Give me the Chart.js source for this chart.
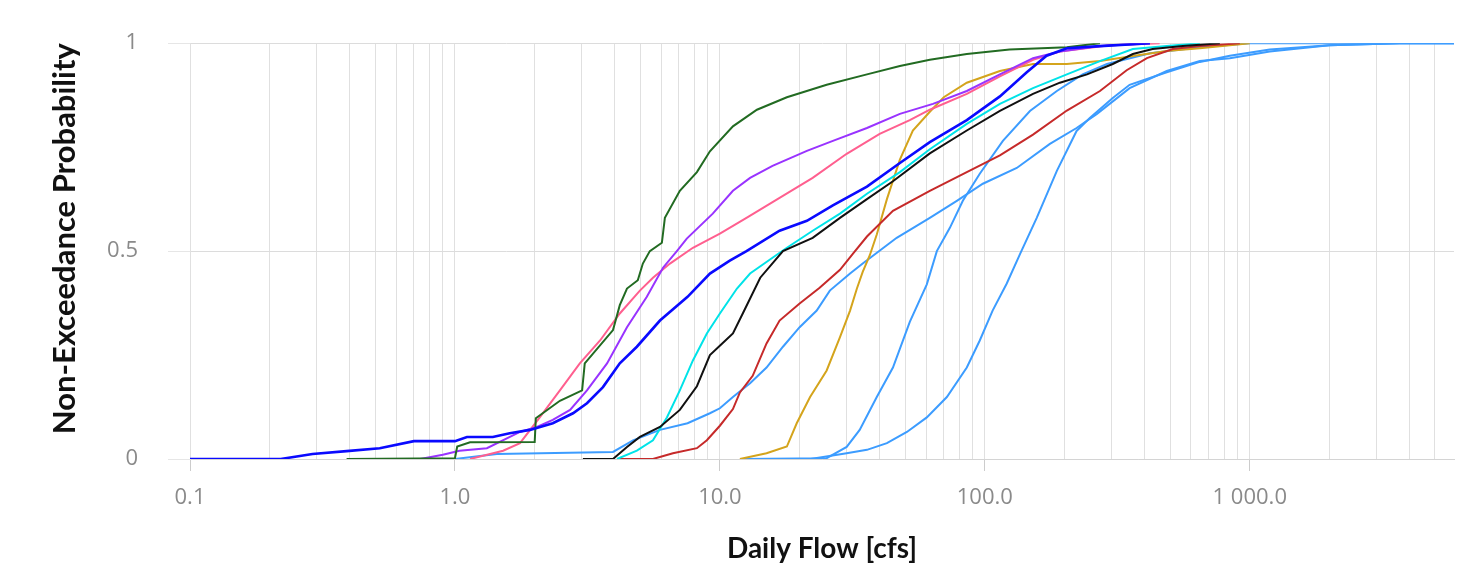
<!DOCTYPE html>
<html>
<head>
<meta charset="utf-8">
<script src="https://cdn.jsdelivr.net/npm/chart.js@4/dist/chart.umd.min.js"></script>
<style>
  html, body { margin: 0; padding: 0; background: #fff; }
  #wrap { width: 1476px; height: 569px; }
</style>
</head>
<body>
<div id="wrap"><canvas id="chart"></canvas></div>
<script>
// flow [cfs], non-exceedance probability pairs
const blue = [[0.1,0],[0.22,0],[0.29,0.012],[0.39,0.019],[0.52,0.026],[0.70,0.043],[1.0,0.043],[1.11,0.053],[1.39,0.053],[1.61,0.062],[1.92,0.07],[2.34,0.086],[2.79,0.11],[3.15,0.134],[3.62,0.173],[4.19,0.23],[4.86,0.27],[5.94,0.333],[7.55,0.39],[9.17,0.446],[10.9,0.477],[12.6,0.5],[16.8,0.549],[21.3,0.573],[26.7,0.61],[35.9,0.655],[47.8,0.712],[62,0.762],[85.5,0.815],[114,0.872],[144,0.93],[171,0.97],[204,0.988],[272,0.993],[420,1]];
const green = [[0.39,0],[1.0,0.002],[1.02,0.03],[1.14,0.04],[2.0,0.041],[2.02,0.098],[2.49,0.14],[3.02,0.165],[3.09,0.23],[3.95,0.31],[4.19,0.37],[4.46,0.41],[4.9,0.43],[5.12,0.47],[5.44,0.5],[6.04,0.52],[6.2,0.58],[7.06,0.645],[8.19,0.69],[9.17,0.74],[11.2,0.8],[13.8,0.84],[17.9,0.87],[25.3,0.9],[35.9,0.925],[47.8,0.945],[62,0.96],[85.5,0.974],[124,0.985],[204,0.99],[272,1]];
const purple = [[0.74,0],[0.9,0.01],[1.04,0.02],[1.32,0.026],[1.76,0.065],[2.04,0.077],[2.34,0.094],[2.72,0.118],[3.15,0.165],[3.75,0.23],[4.46,0.317],[5.3,0.39],[6.1,0.46],[6.88,0.5],[7.5,0.53],[9.4,0.59],[11.2,0.645],[13.0,0.676],[15.8,0.705],[21.3,0.741],[26.7,0.765],[35.9,0.796],[47.8,0.83],[63.7,0.854],[85.5,0.885],[114,0.925],[152,0.964],[192,0.98],[272,0.993],[420,1]];
const pink = [[1.14,0],[1.52,0.02],[1.76,0.038],[2.09,0.1],[2.49,0.165],[2.96,0.23],[3.53,0.285],[4.19,0.35],[4.99,0.405],[5.59,0.436],[6.48,0.47],[7.91,0.508],[10.0,0.542],[12.6,0.58],[16.8,0.628],[22.4,0.676],[30.1,0.734],[40.1,0.782],[52.1,0.815],[62,0.84],[85.5,0.878],[114,0.92],[152,0.96],[192,0.98],[296,0.995],[457,1]];
const black = [[3.04,0],[3.95,0],[4.46,0.029],[4.99,0.053],[5.94,0.077],[7.06,0.118],[8.19,0.175],[9.17,0.25],[10.3,0.28],[11.2,0.302],[12.2,0.35],[14.2,0.436],[17.3,0.5],[22.4,0.532],[28.4,0.58],[35.9,0.625],[45,0.668],[62,0.735],[85.5,0.79],[114,0.837],[152,0.878],[192,0.905],[243,0.925],[304,0.95],[362,0.974],[430,0.986],[559,0.993],[771,1]];
const cyan = [[4.09,0],[4.86,0.02],[5.59,0.045],[6.31,0.1],[7.06,0.165],[7.91,0.237],[8.93,0.302],[10.0,0.35],[11.6,0.41],[13.0,0.446],[15.8,0.484],[17.9,0.508],[22.4,0.549],[28.4,0.59],[35.9,0.638],[47.8,0.69],[62,0.745],[85.5,0.806],[114,0.854],[152,0.892],[204,0.925],[272,0.957],[362,0.986],[486,0.993],[648,1]];
const red = [[4.19,0],[5.59,0],[6.65,0.014],[8.19,0.026],[8.93,0.045],[10.0,0.08],[11.2,0.12],[11.9,0.16],[13.3,0.2],[15.0,0.278],[16.8,0.333],[20.0,0.374],[23.8,0.412],[28.4,0.455],[31.8,0.494],[35.9,0.535],[45,0.597],[62,0.645],[85.5,0.69],[114,0.73],[152,0.78],[204,0.838],[272,0.885],[343,0.935],[409,0.964],[512,0.986],[648,0.993],[917,1]];
const gold = [[11.9,0],[15.0,0.014],[17.9,0.03],[19.5,0.086],[21.9,0.149],[25.3,0.213],[28.4,0.293],[31.0,0.357],[32.9,0.41],[34.6,0.45],[36.8,0.49],[39.1,0.54],[42.7,0.625],[47.8,0.72],[53.5,0.79],[62,0.835],[70,0.87],[85.5,0.905],[114,0.933],[152,0.95],[204,0.95],[272,0.957],[362,0.969],[486,0.981],[648,0.988],[1000,1]];
const lightBlue1 = [[1.0,0],[1.44,0.012],[3.95,0.017],[4.7,0.045],[5.94,0.07],[7.55,0.086],[9.17,0.11],[10.0,0.122],[11.2,0.149],[13.0,0.182],[15.0,0.22],[17.3,0.27],[20.0,0.317],[23.2,0.357],[26.0,0.405],[31.0,0.446],[34.6,0.47],[46.5,0.532],[62,0.58],[78.4,0.621],[98.3,0.662],[132,0.70],[176,0.758],[222,0.796],[265,0.83],[352,0.892],[486,0.933],[648,0.957],[841,0.964],[1190,0.98],[2000,0.995],[3680,1],[5900,1]];
const lightBlue2 = [[12,0],[25.3,0.002],[30.1,0.029],[33.7,0.07],[39.1,0.149],[45,0.22],[52.1,0.33],[60.4,0.42],[65.9,0.5],[73.8,0.556],[82.6,0.621],[95.7,0.686],[117,0.765],[148,0.837],[187,0.885],[234,0.925],[289,0.95],[420,0.976],[648,0.99],[1000,1],[5900,1]];
const lightBlue3 = [[22,0],[30.1,0.014],[35.9,0.022],[42.7,0.038],[50.8,0.065],[60.4,0.1],[71.9,0.149],[85.5,0.22],[95.7,0.285],[107,0.357],[121,0.422],[136,0.494],[157,0.58],[187,0.693],[222,0.789],[249,0.82],[304,0.868],[352,0.9],[486,0.93],[648,0.955],[841,0.97],[1190,0.985],[2000,0.995],[3680,1],[5900,1]];

const xTickValues = [0.1, 1, 10, 100, 1000];
const xTickLabels = ['0.1', '1.0', '10.0', '100.0', '1 000.0'];
const yTickValues = [0, 0.5, 1];
const yTickLabels = ['0', '0.5', '1'];
const xMin = 0.1, xMax = 5900;

function pts(arr) { return arr.map(p => ({x: p[0], y: p[1]})); }
function isDecade(v) { return xTickValues.some(t => Math.abs(v - t) / t < 1e-6); }

const series = [
    {data: blue, color: '#0a0aff', width: 2.6},
    {data: black, color: '#111111', width: 2},
    {data: green, color: '#226b22', width: 2},
    {data: purple, color: '#9933ff', width: 2},
    {data: pink, color: '#ff5f8f', width: 2},
    {data: cyan, color: '#00e3e8', width: 2},
    {data: red, color: '#c62a2a', width: 2},
    {data: gold, color: '#d4a41c', width: 2},
    {data: lightBlue1, color: '#3c9cff', width: 2},
    {data: lightBlue2, color: '#3c9cff', width: 2},
    {data: lightBlue3, color: '#3c9cff', width: 2}
];

const ctx = document.getElementById('chart');

new Chart(ctx, {
    type: 'line',
    data: {
        datasets: series.map((s, i) => ({
            label: 'Series ' + (i + 1),
            data: pts(s.data),
            borderColor: s.color,
            borderWidth: s.width,
            pointRadius: 0,
            fill: false,
            tension: 0
        }))
    },
    options: {
        responsive: true,
        maintainAspectRatio: false,
        animation: false,
        layout: { padding: { top: 42, right: 22, bottom: 0, left: 30 } },
        plugins: { legend: { display: false }, tooltip: { enabled: false } },
        scales: {
            x: {
                type: 'logarithmic',
                min: xMin,
                max: xMax,
                afterBuildTicks: scale => {
                    const t = [];
                    xTickValues.forEach(d => {
                        for (let m = 1; m <= 9; m++) {
                            const v = +(m * d).toPrecision(6);
                            if (v <= xMax) t.push({value: v});
                        }
                    });
                    scale.ticks = t;
                },
                afterFit: scale => { scale.height = 110; },
                grid: {
                    color: '#e0e0e0',
                    tickLength: 12,
                    tickColor: c => (c.tick && isDecade(c.tick.value)) ? '#cccccc' : 'rgba(0,0,0,0)'
                },
                border: { color: '#d4d4d4' },
                ticks: {
                    autoSkip: false,
                    maxRotation: 0,
                    padding: 14,
                    color: '#8a8a8a',
                    font: { family: 'Open Sans', size: 22 },
                    callback: v => {
                        const i = xTickValues.findIndex(t => Math.abs(v - t) / t < 1e-6);
                        return i >= 0 ? xTickLabels[i] : '';
                    }
                },
                title: {
                    display: true,
                    text: 'Daily Flow [cfs]',
                    color: '#111',
                    font: { family: 'Lato', size: 28, weight: 'bold' },
                    padding: { top: 0, bottom: 3 }
                }
            },
            y: {
                min: 0,
                max: 1,
                afterBuildTicks: scale => { scale.ticks = yTickValues.map(v => ({value: v})); },
                afterFit: scale => { scale.width = 160; },
                grid: { color: '#dcdcdc', tickLength: 22, tickColor: '#e6e6e6' },
                border: { color: '#e0e0e0' },
                ticks: {
                    padding: 30,
                    color: '#8a8a8a',
                    font: { family: 'Open Sans', size: 22 },
                    callback: v => {
                        const i = yTickValues.indexOf(v);
                        return i >= 0 ? yTickLabels[i] : '';
                    }
                },
                title: {
                    display: true,
                    align: 'end',
                    text: 'Non-Exceedance Probability',
                    color: '#111',
                    font: { family: 'Lato', size: 31, weight: 'bold' },
                    padding: { top: 16, bottom: 0 }
                }
            }
        }
    }
});
</script>
</body>
</html>
